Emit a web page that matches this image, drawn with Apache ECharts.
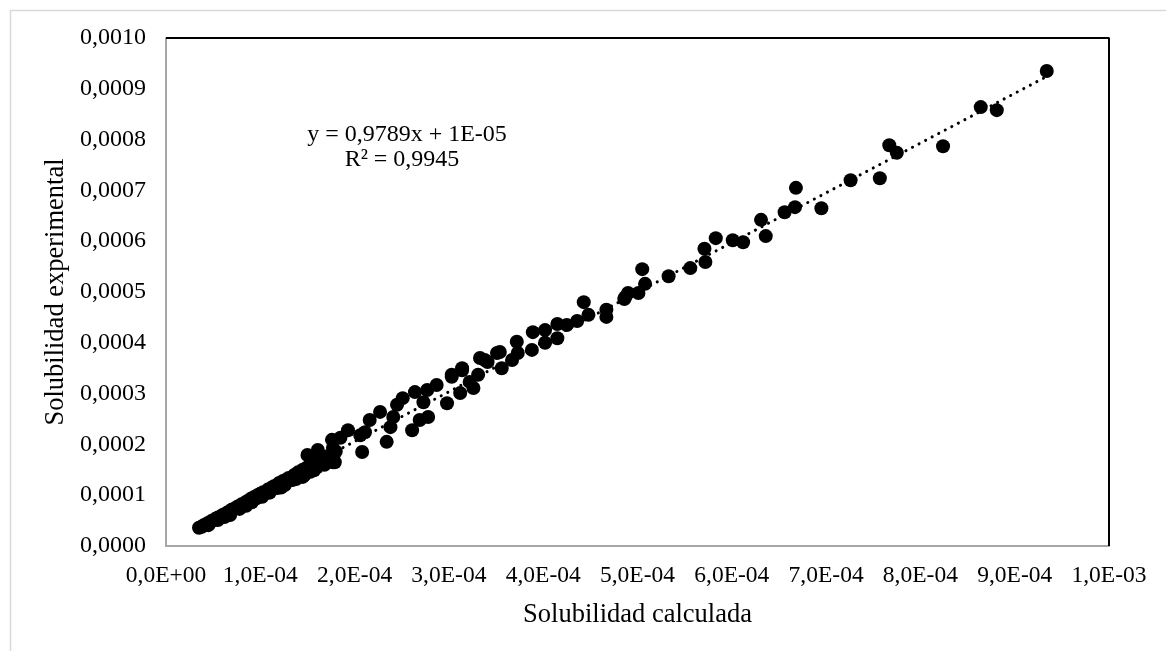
<!DOCTYPE html>
<html>
<head>
<meta charset="utf-8">
<script src="https://cdn.jsdelivr.net/npm/echarts@6/dist/echarts.min.js"></script>
<style>
  html, body { margin: 0; padding: 0; background: #ffffff; }
  #chart { width: 1166px; height: 651px; }
</style>
</head>
<body>
<div id="chart"></div>
<script>
// Calculated solubility (x) and experimental solubility (y), mole fraction
const solCalculada = [
  0.35e-4, 0.38e-4, 0.40e-4, 0.42e-4, 0.44e-4, 0.46e-4, 0.48e-4, 0.50e-4, 0.52e-4, 0.55e-4,
  0.55e-4, 0.58e-4, 0.60e-4, 0.62e-4, 0.65e-4, 0.68e-4, 0.68e-4, 0.70e-4, 0.73e-4, 0.76e-4,
  0.78e-4, 0.80e-4, 0.83e-4, 0.86e-4, 0.88e-4, 0.90e-4, 0.93e-4, 0.96e-4, 0.97e-4, 1.00e-4,
  1.03e-4, 1.06e-4, 1.08e-4, 1.12e-4, 1.15e-4, 1.18e-4, 1.20e-4, 1.24e-4, 1.27e-4, 1.30e-4,
  1.34e-4, 1.36e-4, 1.40e-4, 1.42e-4, 1.45e-4, 1.50e-4, 1.53e-4, 1.55e-4, 1.58e-4, 1.60e-4,
  1.62e-4, 1.66e-4, 1.70e-4, 1.72e-4, 1.77e-4, 1.78e-4, 1.80e-4, 1.50e-4, 1.61e-4, 1.77e-4,
  1.79e-4, 1.76e-4, 1.85e-4, 1.93e-4, 2.08e-4, 2.06e-4, 2.11e-4, 2.16e-4, 2.27e-4, 2.34e-4,
  2.38e-4, 2.41e-4, 2.45e-4, 2.51e-4, 2.61e-4, 2.69e-4, 2.73e-4, 2.78e-4, 2.64e-4, 2.77e-4,
  2.87e-4, 2.98e-4, 3.12e-4, 3.26e-4, 3.31e-4, 3.03e-4, 3.14e-4, 3.38e-4, 3.51e-4, 3.22e-4,
  3.03e-4, 3.14e-4, 3.33e-4, 3.41e-4, 3.56e-4, 3.54e-4, 3.67e-4, 3.73e-4, 3.72e-4, 3.88e-4,
  3.89e-4, 4.02e-4, 4.02e-4, 4.15e-4, 4.15e-4, 4.25e-4, 4.36e-4, 4.48e-4, 4.43e-4, 4.67e-4,
  4.67e-4, 4.87e-4, 4.86e-4, 4.90e-4, 5.01e-4, 5.08e-4, 5.05e-4, 5.33e-4, 5.56e-4, 5.72e-4,
  5.71e-4, 5.83e-4, 6.01e-4, 6.12e-4, 6.36e-4, 6.31e-4, 6.56e-4, 6.67e-4, 6.68e-4, 6.95e-4,
  7.26e-4, 7.57e-4, 7.67e-4, 7.75e-4, 8.24e-4, 8.64e-4, 8.81e-4, 9.34e-4,
  0.64e-4, 0.91e-4, 1.10e-4, 1.26e-4, 1.38e-4, 1.47e-4, 1.57e-4, 1.68e-4,
  0.45e-4, 0.62e-4, 0.85e-4, 1.02e-4, 1.22e-4, 1.45e-4
];
const solExperimental = [
  0.36e-4, 0.38e-4, 0.41e-4, 0.42e-4, 0.45e-4, 0.46e-4, 0.49e-4, 0.50e-4, 0.53e-4, 0.51e-4,
  0.56e-4, 0.58e-4, 0.61e-4, 0.62e-4, 0.66e-4, 0.61e-4, 0.69e-4, 0.72e-4, 0.74e-4, 0.78e-4,
  0.73e-4, 0.82e-4, 0.84e-4, 0.88e-4, 0.86e-4, 0.93e-4, 0.96e-4, 0.94e-4, 1.00e-4, 1.03e-4,
  1.06e-4, 1.04e-4, 1.11e-4, 1.15e-4, 1.18e-4, 1.14e-4, 1.24e-4, 1.28e-4, 1.30e-4, 1.34e-4,
  1.30e-4, 1.40e-4, 1.45e-4, 1.38e-4, 1.50e-4, 1.55e-4, 1.46e-4, 1.58e-4, 1.62e-4, 1.55e-4,
  1.67e-4, 1.72e-4, 1.76e-4, 1.68e-4, 1.65e-4, 1.82e-4, 1.86e-4, 1.79e-4, 1.89e-4, 1.93e-4,
  1.65e-4, 2.09e-4, 2.13e-4, 2.28e-4, 1.85e-4, 2.18e-4, 2.24e-4, 2.48e-4, 2.64e-4, 2.05e-4,
  2.34e-4, 2.54e-4, 2.78e-4, 2.91e-4, 2.28e-4, 2.48e-4, 2.83e-4, 2.54e-4, 3.03e-4, 3.07e-4,
  3.17e-4, 2.81e-4, 3.01e-4, 3.11e-4, 3.37e-4, 3.33e-4, 3.46e-4, 3.66e-4, 3.80e-4, 3.23e-4,
  3.37e-4, 3.50e-4, 3.70e-4, 3.62e-4, 3.50e-4, 3.82e-4, 3.66e-4, 3.80e-4, 4.02e-4, 3.86e-4,
  4.21e-4, 4.00e-4, 4.25e-4, 4.09e-4, 4.37e-4, 4.35e-4, 4.43e-4, 4.55e-4, 4.80e-4, 4.65e-4,
  4.51e-4, 4.90e-4, 4.86e-4, 4.98e-4, 4.98e-4, 5.16e-4, 5.45e-4, 5.31e-4, 5.47e-4, 5.59e-4,
  5.85e-4, 6.06e-4, 6.02e-4, 5.98e-4, 6.10e-4, 6.42e-4, 6.57e-4, 6.67e-4, 7.05e-4, 6.65e-4,
  7.20e-4, 7.24e-4, 7.89e-4, 7.74e-4, 7.87e-4, 8.64e-4, 8.58e-4, 9.35e-4,
  0.60e-4, 0.86e-4, 1.05e-4, 1.20e-4, 1.32e-4, 1.40e-4, 1.49e-4, 1.60e-4,
  0.41e-4, 0.57e-4, 0.79e-4, 0.97e-4, 1.15e-4, 1.36e-4
];

// Linear fit reported for the data set
const trendSlope = 0.9789;
const trendIntercept = 1e-5;
const trendLabel = 'y = 0,9789x + 1E-05';
const r2Label = 'R² = 0,9945';

const xTitle = 'Solubilidad calculada';
const yTitle = 'Solubilidad experimental';

const points = solCalculada.map((x, i) => [x, solExperimental[i]]);
const xMinData = Math.min(...solCalculada);
const xMaxData = Math.max(...solCalculada);
const trendPoints = [
  [xMinData, trendSlope * xMinData + trendIntercept],
  [xMaxData, trendSlope * xMaxData + trendIntercept]
];

const FONT = '"Liberation Serif", "Times New Roman", serif';

function fmtDecimal(v) {
  return v.toFixed(4).replace('.', ',');
}
function fmtSci(v) {
  if (Math.abs(v) < 1e-12) return '0,0E+00';
  const s = v.toExponential(1);           // e.g. "1.0e-4"
  const [mant, exp] = s.split('e');
  const e = parseInt(exp, 10);
  const sign = e < 0 ? '-' : '+';
  const ee = String(Math.abs(e)).padStart(2, '0');
  return mant.replace('.', ',') + 'E' + sign + ee;
}

const chart = echarts.init(document.getElementById('chart'), null, { renderer: 'canvas' });

chart.setOption({
  backgroundColor: '#ffffff',
  animation: false,
  grid: { left: 166, top: 38, right: 57, bottom: 105, show: false },
  xAxis: {
    type: 'value',
    min: 0, max: 0.001, interval: 0.0001,
    name: xTitle,
    nameLocation: 'middle',
    nameGap: 56,
    nameTextStyle: { fontFamily: FONT, fontSize: 26.5, color: '#000' },
    axisLine: { show: true, onZero: false, lineStyle: { color: '#a6a6a6', width: 2 } },
    axisTick: { show: false },
    splitLine: { show: false },
    axisLabel: { formatter: fmtSci, fontFamily: FONT, fontSize: 23.5, color: '#000', margin: 18 }
  },
  yAxis: {
    type: 'value',
    min: 0, max: 0.001, interval: 0.0001,
    name: yTitle,
    nameLocation: 'middle',
    nameGap: 96,
    nameTextStyle: { fontFamily: FONT, fontSize: 26.5, color: '#000' },
    axisLine: { show: true, onZero: false, lineStyle: { color: '#a6a6a6', width: 2 } },
    axisTick: { show: false },
    splitLine: { show: false },
    axisLabel: { formatter: fmtDecimal, fontFamily: FONT, fontSize: 24, color: '#000', margin: 20 }
  },
  series: [
    {
      type: 'scatter',
      data: points,
      symbol: 'circle',
      symbolSize: 14,
      itemStyle: { color: '#000000', opacity: 1 },
      z: 3
    },
    {
      type: 'line',
      data: trendPoints,
      symbol: 'none',
      lineStyle: { color: '#000000', width: 3, type: [0.1, 7.3], cap: 'round' },
      z: 4
    },
    {
      // plot-area frame: top and right edges
      type: 'line',
      data: [[0, 0.001], [0.001, 0.001], [0.001, 0]],
      symbol: 'none',
      lineStyle: { color: '#000000', width: 2 },
      silent: true,
      z: 1
    }
  ],
  graphic: [
    {
      type: 'rect',
      left: 8, top: 8,
      shape: { width: 1200, height: 700 },
      style: { fill: 'none', stroke: '#d9d9d9', lineWidth: 1.5 },
      silent: true, z: -1
    },
    {
      type: 'text',
      x: 407, y: 135,
      style: {
        text: trendLabel, font: '24px ' + FONT, fill: '#000',
        textAlign: 'center', textVerticalAlign: 'middle'
      }
    },
    {
      type: 'text',
      x: 402, y: 160,
      style: {
        text: r2Label, font: '24px ' + FONT, fill: '#000',
        textAlign: 'center', textVerticalAlign: 'middle'
      }
    }
  ]
});
</script>
</body>
</html>
